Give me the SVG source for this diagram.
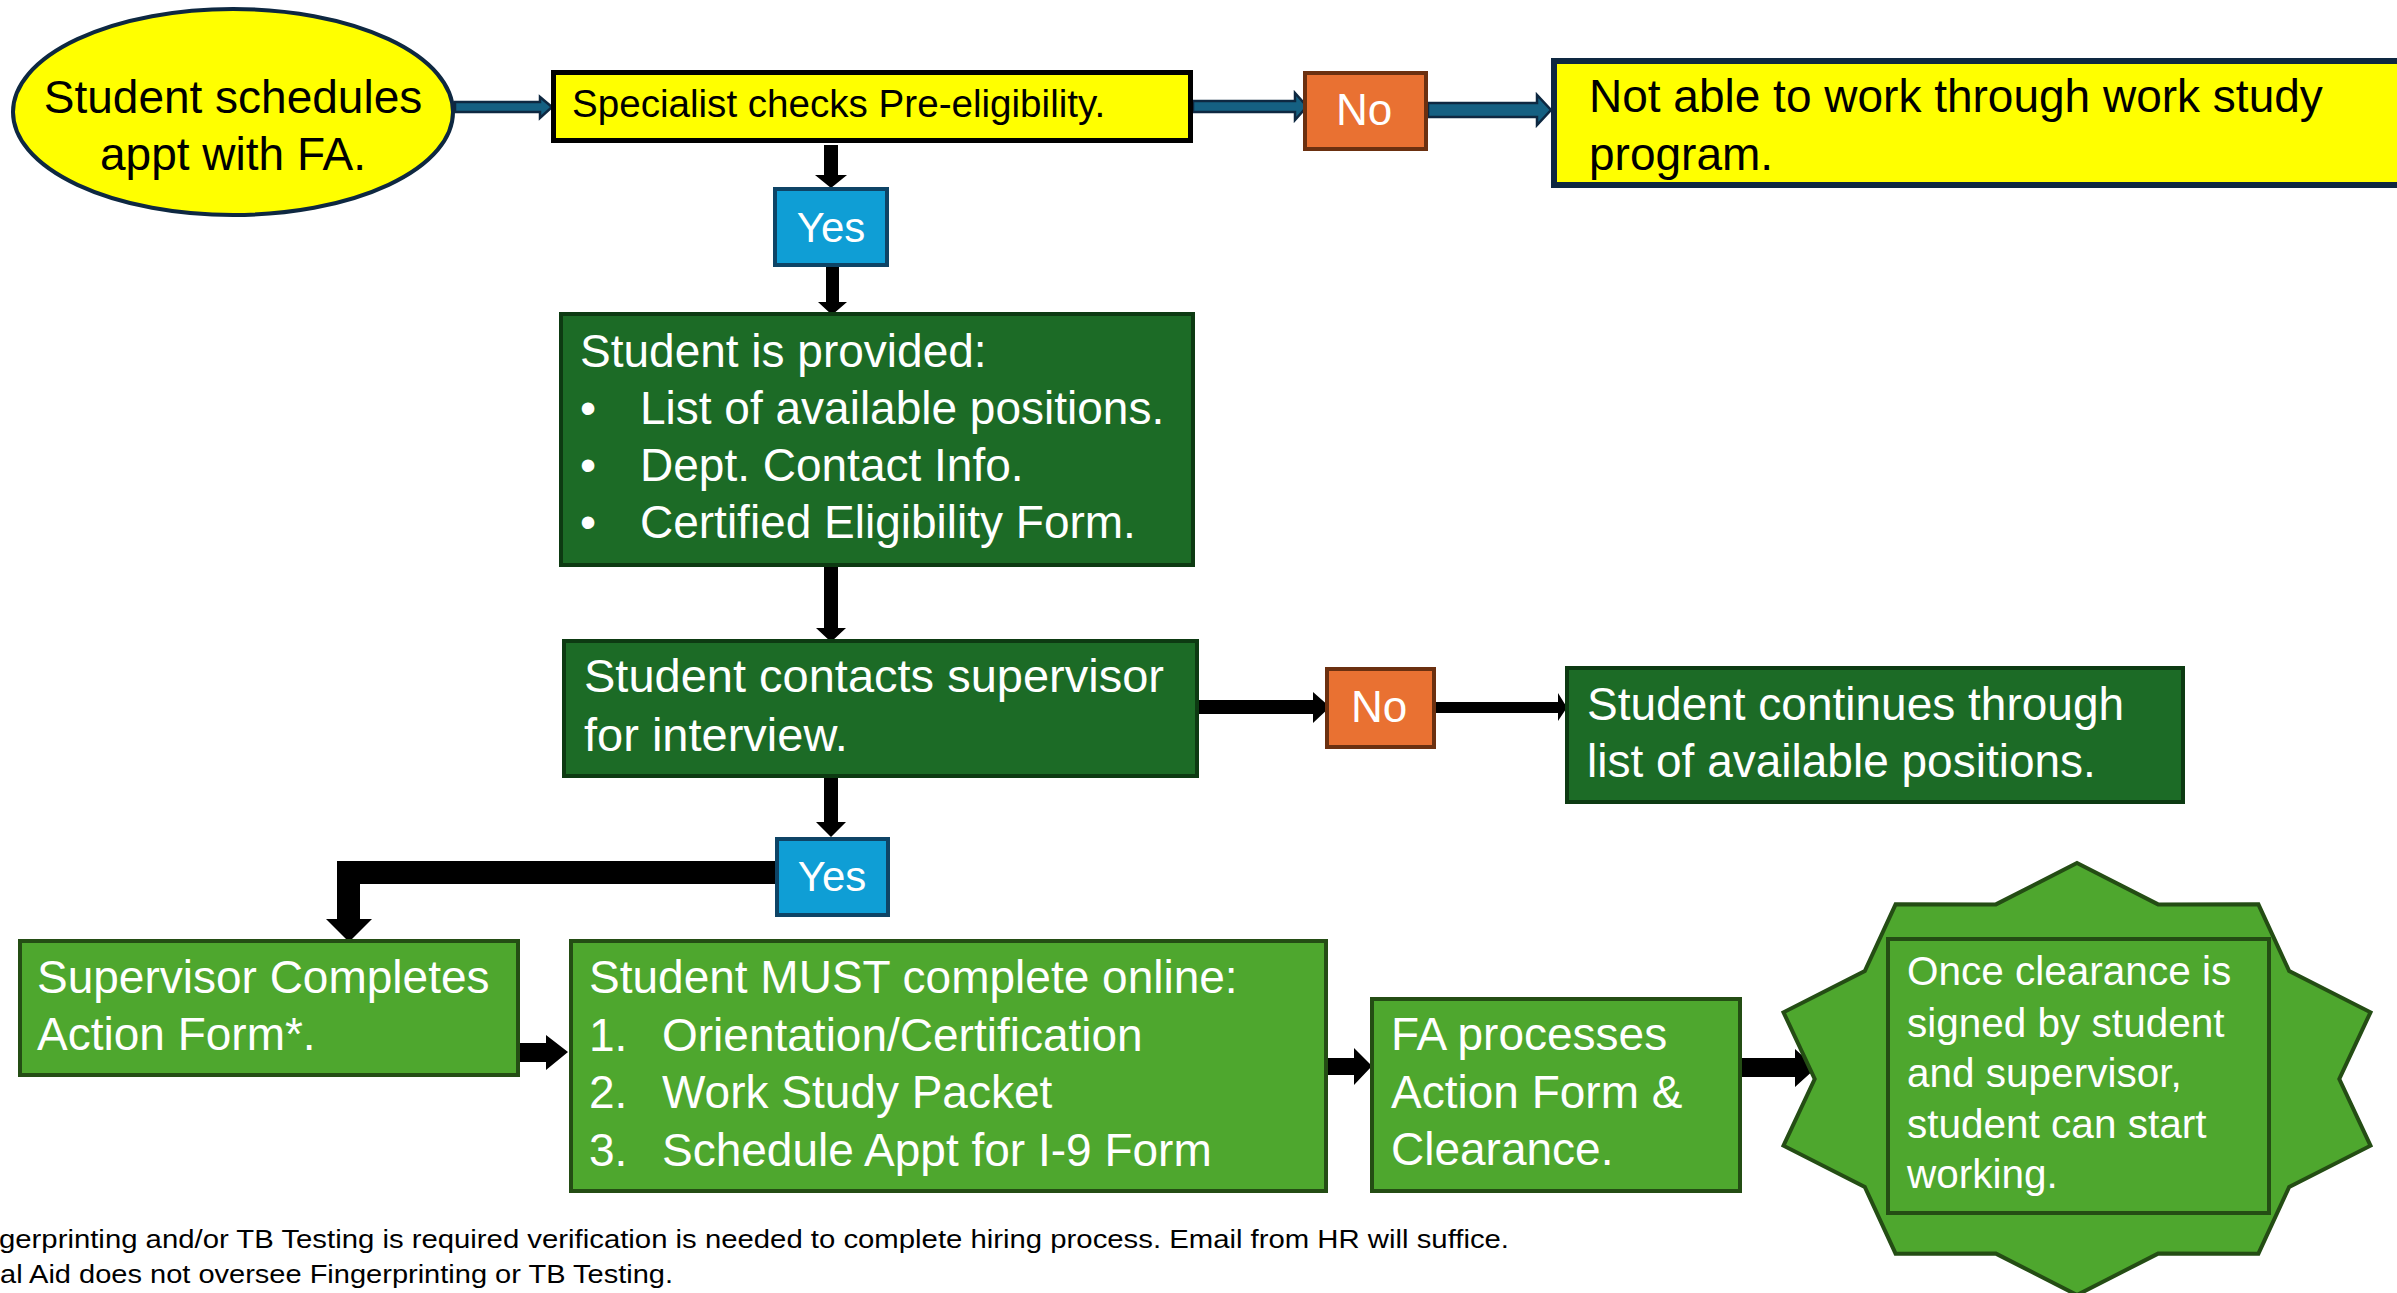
<svg xmlns="http://www.w3.org/2000/svg" width="2397" height="1293" viewBox="0 0 2397 1293">
<style>
text{font-family:"Liberation Sans",Arial,sans-serif}
.t46{font-size:46px}
.blk{fill:#000}
.wht{fill:#fff}
.yel{fill:#FFFF00}
.dg{fill:#1C6B26;stroke:#0D3A12;stroke-width:4}
.lg{fill:#4EA72E;stroke:#244D14;stroke-width:4}
.org{fill:#E97132;stroke:#6B3010;stroke-width:4}
.blu{fill:#0F9ED5;stroke:#0E4466;stroke-width:4}
.barr{fill:#156082;stroke:#0E2841;stroke-width:2.5}
.karr{fill:#000}
</style>
<rect width="2397" height="1293" fill="#fff"/>
<g id="connectors">
<polygon class="barr" points="455,102 540,102 540,97 552,107 540,118 540,112 455,112"/>
<polygon class="barr" points="1193,101 1295,101 1295,93 1307,106.5 1295,120 1295,112 1193,112"/>
<polygon class="barr" points="1428,103 1537,103 1537,95 1551,110 1537,125 1537,117 1428,117"/>
<polygon class="karr" points="824,145 838,145 838,175 847,175 831,188 815,175 824,175"/>
<polygon class="karr" points="826,267 839,267 839,302 847,302 832,315 818,302 826,302"/>
<polygon class="karr" points="824,567 838,567 838,628 846,628 831,642 816,628 824,628"/>
<polygon class="karr" points="824,778 838,778 838,822 846,822 831,837 816,822 824,822"/>
<polygon class="karr" points="1199,700 1313,700 1313,692 1330,707 1313,723 1313,714 1199,714"/>
<polygon class="karr" points="1436,702 1558,702 1558,693 1567,707.5 1558,721 1558,713 1436,713"/>
<polygon class="karr" points="777,861 337,861 337,919 326,919 349,942 372,919 360,919 360,884 777,884"/>
<polygon class="karr" points="520,1043 546,1043 546,1035 568,1052 546,1070 546,1062 520,1062"/>
<polygon class="karr" points="1328,1058 1354,1058 1354,1048 1372,1066 1354,1085 1354,1075 1328,1075"/>
<polygon class="karr" points="1742,1058 1795,1058 1795,1049 1816,1068 1795,1087 1795,1077 1742,1077"/>
</g>
<g id="n-start">
<ellipse cx="233" cy="112" rx="220" ry="103" class="yel" stroke="#0E2841" stroke-width="4"/>
<text class="t46 blk" x="233" y="113" text-anchor="middle">Student schedules</text>
<text class="t46 blk" x="233" y="170" text-anchor="middle">appt with FA.</text>
</g>
<g id="n-specialist">
<rect x="553.5" y="72.5" width="637" height="68" class="yel" stroke="#000" stroke-width="5"/>
<text class="blk" x="572" y="117" font-size="38.6">Specialist checks Pre-eligibility.</text>
</g>
<g id="n-no1">
<rect x="1305" y="73" width="121" height="76" class="org"/>
<text class="wht" x="1364" y="125" font-size="44" text-anchor="middle">No</text>
</g>
<g id="n-notable">
<rect x="1554" y="61" width="900" height="124" class="yel" stroke="#0E2841" stroke-width="6"/>
<text class="t46 blk" x="1589" y="112">Not able to work through work study</text>
<text class="t46 blk" x="1589" y="170">program.</text>
</g>
<g id="n-yes1">
<rect x="775" y="189" width="112" height="76" class="blu"/>
<text class="wht" x="831" y="242" font-size="42" text-anchor="middle">Yes</text>
</g>
<g id="n-provided">
<rect x="561" y="314" width="632" height="251" class="dg"/>
<text class="t46 wht" x="580" y="367">Student is provided:</text>
<text class="t46 wht" x="580" y="424">•</text>
<text class="t46 wht" x="640" y="424">List of available positions.</text>
<text class="t46 wht" x="580" y="481">•</text>
<text class="t46 wht" x="640" y="481">Dept. Contact Info.</text>
<text class="t46 wht" x="580" y="538">•</text>
<text class="t46 wht" x="640" y="538">Certified Eligibility Form.</text>
</g>
<g id="n-contacts">
<rect x="564" y="641" width="633" height="135" class="dg"/>
<text class="wht" x="584" y="692" font-size="47">Student contacts supervisor</text>
<text class="wht" x="584" y="751" font-size="47">for interview.</text>
</g>
<g id="n-no2">
<rect x="1327" y="669" width="107" height="78" class="org"/>
<text class="wht" x="1379" y="722" font-size="44" text-anchor="middle">No</text>
</g>
<g id="n-continues">
<rect x="1567" y="668" width="616" height="134" class="dg"/>
<text class="t46 wht" x="1587" y="720">Student continues through</text>
<text class="t46 wht" x="1587" y="777">list of available positions.</text>
</g>
<g id="n-yes2">
<rect x="777" y="839" width="111" height="76" class="blu"/>
<text class="wht" x="832" y="891" font-size="42" text-anchor="middle">Yes</text>
</g>
<g id="n-supervisor">
<rect x="20" y="941" width="498" height="134" class="lg"/>
<text class="t46 wht" x="37" y="993">Supervisor Completes</text>
<text class="t46 wht" x="37" y="1050">Action Form*.</text>
</g>
<g id="n-must">
<rect x="571" y="941" width="755" height="250" class="lg"/>
<text class="t46 wht" x="589" y="993">Student MUST complete online:</text>
<text class="t46 wht" x="589" y="1051">1.</text>
<text class="t46 wht" x="662" y="1051">Orientation/Certification</text>
<text class="t46 wht" x="589" y="1108">2.</text>
<text class="t46 wht" x="662" y="1108">Work Study Packet</text>
<text class="t46 wht" x="589" y="1166">3.</text>
<text class="t46 wht" x="662" y="1166">Schedule Appt for I-9 Form</text>
</g>
<g id="n-fa">
<rect x="1372" y="999" width="368" height="192" class="lg"/>
<text class="t46 wht" x="1391" y="1050">FA processes</text>
<text class="t46 wht" x="1391" y="1108">Action Form &amp;</text>
<text class="t46 wht" x="1391" y="1165">Clearance.</text>
</g>
<g id="n-final">
<polygon class="lg" points="2077,863 2158.1,904.4 2258.4,904.3 2289.2,971.1 2370.5,1012.3 2339.3,1079 2370.5,1145.7 2289.2,1186.9 2258.4,1253.7 2158.1,1253.6 2077,1295 1995.9,1253.6 1895.6,1253.7 1864.8,1186.9 1783.5,1145.7 1814.7,1079 1783.5,1012.3 1864.8,971.1 1895.6,904.3 1995.9,904.4"/>
<rect x="1888" y="939" width="381" height="274" class="lg"/>
<text class="wht" x="1907" y="985" font-size="40.5">Once clearance is</text>
<text class="wht" x="1907" y="1037" font-size="40.5">signed by student</text>
<text class="wht" x="1907" y="1087" font-size="40.5">and supervisor,</text>
<text class="wht" x="1907" y="1138" font-size="40.5">student can start</text>
<text class="wht" x="1907" y="1188" font-size="40.5">working.</text>
</g>
<g id="footnote">
<text class="blk" x="-1" y="1248" font-size="26" textLength="1510" lengthAdjust="spacingAndGlyphs">gerprinting and/or TB Testing is required verification is needed to complete hiring process. Email from HR will suffice.</text>
<text class="blk" x="0" y="1283" font-size="26" textLength="673" lengthAdjust="spacingAndGlyphs">al Aid does not oversee Fingerprinting or TB Testing.</text>
</g>
</svg>
